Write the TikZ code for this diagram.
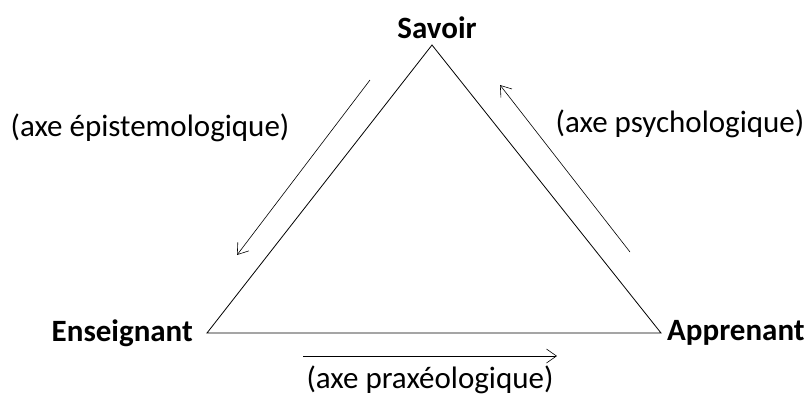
\documentclass[tikz,border=0pt]{standalone}
\usepackage{fontspec}
\setmainfont{Carlito}
\usetikzlibrary{arrows.meta,positioning}
\tikzset{
  sommet/.style={font=\fontsize{31}{36}\selectfont\bfseries, inner sep=0pt},
  axelabel/.style={font=\fontsize{31}{36}\selectfont, inner sep=0pt},
  cote/.style={thick},
  axe/.style={-{Straight Barb[length=10pt,width=14pt]}, semithick}
}
\begin{document}
\begin{tikzpicture}[x=1pt,y=-1pt]
\useasboundingbox (0,0) rectangle (809,397);
% sommets du triangle
\coordinate (S) at (432,45);
\coordinate (E) at (207,333);
\coordinate (A) at (661,333);
\node[sommet] (savoir) at (437,28) {Savoir};
\node[sommet, left=14pt of E] (ens) {Enseignant};
\node[sommet, right=6pt of A] (app) {Apprenant};
\draw[cote] (S) -- (E) -- (A) -- cycle;
% axes
\coordinate (ep1) at (370,80);
\coordinate (ep2) at (237,255);
\coordinate (ps1) at (630,252);
\coordinate (ps2) at (500,85);
\coordinate (pr1) at (303,356);
\coordinate (pr2) at (557,356);
\draw[axe] (ep1) -- (ep2);
\draw[axe] (ps1) -- (ps2);
\draw[axe] (pr1) -- (pr2);
\node[axelabel] (epis) at (150,128) {(axe épistemologique)};
\node[axelabel] (psy) at (680,124) {(axe psychologique)};
\node[axelabel] (prax) at (430,380) {(axe praxéologique)};
\end{tikzpicture}
\end{document}
